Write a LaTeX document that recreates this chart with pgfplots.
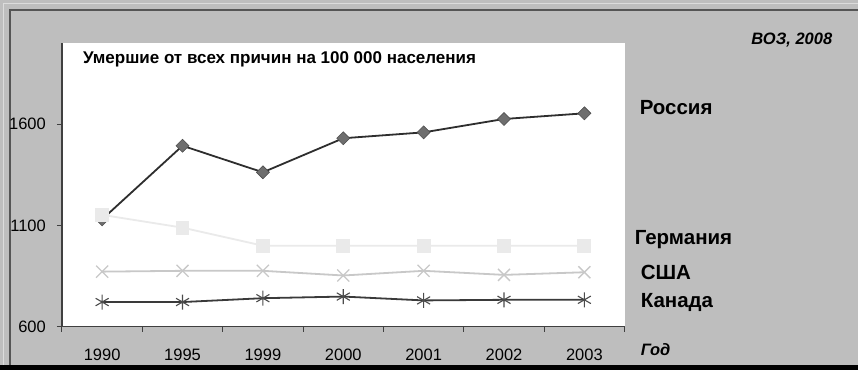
\documentclass[border=0pt]{standalone}
\usepackage{pgfplots}
\pgfplotsset{compat=1.18}
\usepackage{fontspec}
\setmainfont{Liberation Sans}

\definecolor{bg}{HTML}{BEBEBE}
\definecolor{frameDark}{HTML}{555555}
\definecolor{frameLight}{HTML}{DCDCDC}
\definecolor{rusLine}{HTML}{2E2E2E}
\definecolor{rusMark}{HTML}{6E6E6E}
\definecolor{gerCol}{HTML}{EAEAEA}
\definecolor{usaCol}{HTML}{C8C8C8}
\definecolor{canCol}{HTML}{3A3A3A}

\begin{document}
\begin{tikzpicture}[x=1bp,y=1bp]
  % panel background and frame
  \fill[bg] (0,0) rectangle (859,370);
  \fill[black] (0,0) rectangle (859,5);
  \draw[frameLight, line width=1bp] (3.5,5) -- (3.5,366.5) -- (859,366.5);
  \draw[frameDark, line width=1.2bp] (10,5) -- (10,360) -- (859,360);

  \begin{axis}[
    at={(62bp,43bp)}, anchor=south west,
    scale only axis, width=563bp, height=284bp,
    axis background/.style={fill=white},
    xmin=-0.5, xmax=6.5, ymin=600, ymax=2000,
    axis x line*=bottom, axis y line*=left,
    axis line style={-, line width=1.3bp, color=black!75},
    tick align=outside, major tick length=5bp,
    tick style={line width=1bp, color=black!75},
    xtick={-0.5,0.5,...,6.5},
    x tick label as interval,
    xticklabels={1990,1995,1999,2000,2001,2002,2003},
    ytick={600,1100,1600},
    /pgf/number format/assume math mode=true,
    /pgf/number format/1000 sep={},
    tick label style={font=\fontsize{16.5bp}{19bp}\selectfont, inner sep=0pt},
    xticklabel style={anchor=base, yshift=-29bp},
    yticklabel style={anchor=east, xshift=-11bp},
    clip=false,
  ]
    % Russia
    \addplot[rusLine, line width=1.8bp, mark=square*, mark size=4.6bp,
      mark options={rotate=45, fill=rusMark, draw=black!70, line width=0.6bp}]
      coordinates {(0,1130) (1,1493) (2,1362) (3,1530) (4,1559) (5,1625) (6,1653)};
    % Germany
    \addplot[gerCol, line width=1.8bp, mark=square*, mark size=6bp,
      mark options={fill=gerCol, draw=gerCol}]
      coordinates {(0,1152) (1,1089) (2,1000) (3,1000) (4,1000) (5,1000) (6,1000)};
    % USA
    \addplot[usaCol, line width=1.8bp, mark=x, mark size=8.5bp,
      mark options={line width=1.3bp}]
      coordinates {(0,872) (1,876) (2,876) (3,853) (4,876) (5,856) (6,869)};
    % Canada
    \addplot[canCol, line width=1.8bp, mark=asterisk, mark size=7.5bp,
      mark options={line width=1.1bp, color=black!70}]
      coordinates {(0,722) (1,722) (2,741) (3,749) (4,730) (5,733) (6,733)};
  \end{axis}

  % titles and series names
  \node[anchor=west, font=\bfseries\fontsize{17bp}{20bp}\selectfont, inner sep=0pt]
    at (83,311) {Умершие от всех причин на 100 000 населения};
  \node[anchor=east, font=\bfseries\itshape\fontsize{16.5bp}{19bp}\selectfont, inner sep=0pt]
    at (833,330) {ВОЗ, 2008};
  \node[anchor=west, font=\bfseries\itshape\fontsize{16.5bp}{19bp}\selectfont, inner sep=0pt]
    at (641,20) {Год};
  \begin{scope}[every node/.style={anchor=west, inner sep=0pt,
      font=\bfseries\fontsize{20.5bp}{24bp}\selectfont}]
    \node at (640,262) {Россия};
    \node at (635,130) {Германия};
    \node at (641,97) {США};
    \node at (641,67) {Канада};
  \end{scope}
\end{tikzpicture}
\end{document}
